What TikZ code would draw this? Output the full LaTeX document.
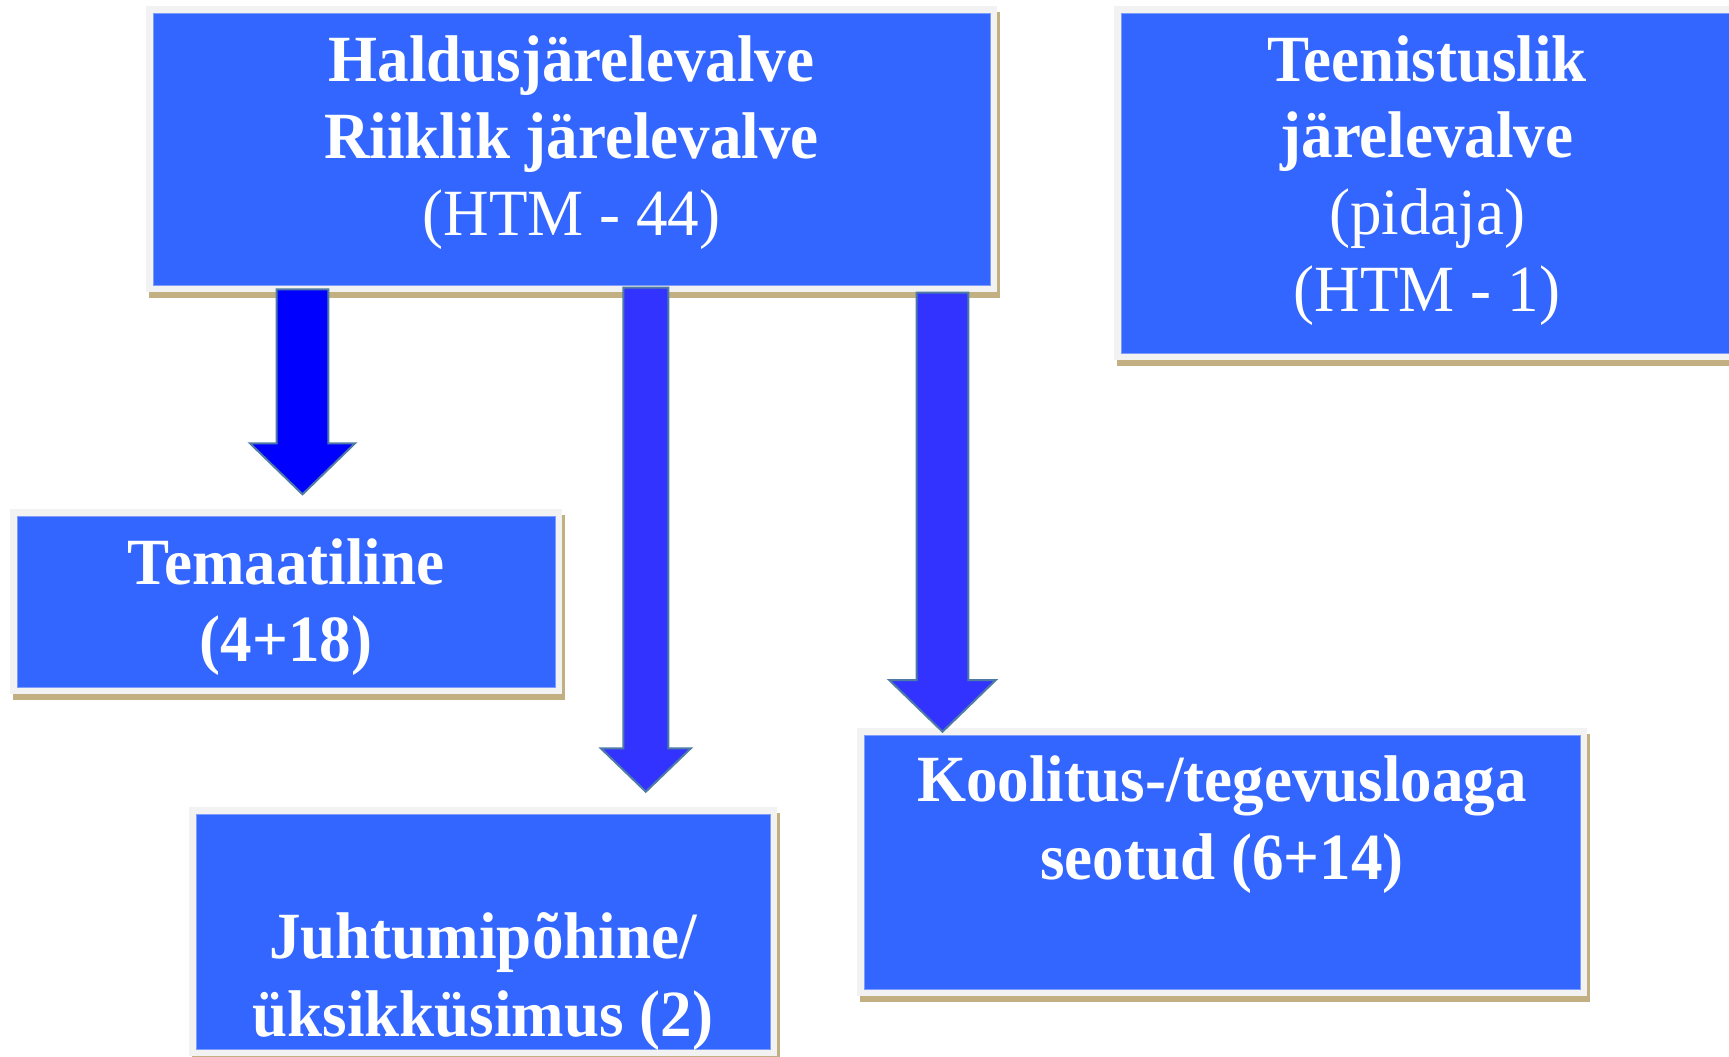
\documentclass[tikz,border=0pt]{standalone}
\usepackage{fontspec}
\setmainfont{Liberation Serif}
\usepackage{graphicx}
\usetikzlibrary{calc}
\definecolor{boxblue}{HTML}{3366FF}
\definecolor{boxedge}{HTML}{7F9CFA}
\definecolor{framec}{HTML}{F2F2F2}
\definecolor{tanc}{HTML}{C2B083}
\definecolor{arrowedge}{HTML}{4D7BA6}
\definecolor{arrowA}{HTML}{0000FF}
\definecolor{arrowB}{HTML}{3333FF}
\newcommand\sx[1]{\scalebox{0.955}[1]{#1}}
\newcommand\panel[5]{%
  \fill[tanc] (#2-7+3,#3-7+6) rectangle (#4+7+3,#5+7+6);
  \fill[framec] (#2-7,#3-7) rectangle (#4+7,#5+7);
  \node[bluebox, anchor=north west, minimum width={(#4-#2)*0.5pt}, minimum height={(#5-#3)*0.5pt}] (#1) at (#2,#3) {};
}
\newcommand\fatarrow[6]{% fill, start, tip, shaft half, head half, head length
  \draw[fat, fill=#1] ($(#2)+(-#4,0)$) -- ($(#3)+(-#4,-#6)$) -- ($(#3)+(-#5,-#6)$) -- (#3)
    -- ($(#3)+(#5,-#6)$) -- ($(#3)+(#4,-#6)$) -- ($(#2)+(#4,0)$) -- cycle;
}
\tikzset{
  bluebox/.style={fill=boxblue, draw=boxedge, line width=0.5pt, inner sep=0pt, outer sep=0pt},
  txt/.style={text=white, inner sep=0pt, outer sep=0pt, anchor=base, font=\fontsize{33}{38}\selectfont},
  txtb/.style={txt, font=\fontsize{33}{38}\selectfont\bfseries},
  fat/.style={draw=arrowedge, line width=1pt, line join=miter},
}
\begin{document}
\begin{tikzpicture}[x=0.5pt,y=-0.5pt]
\clip (0,0) rectangle (1729,1056);
\fill[white] (0,0) rectangle (1729,1056);

% boxes
\panel{hald}{153}{13}{990}{285}
\panel{teen}{1121}{13}{1760}{353}
\panel{tema}{17}{516}{555}{687}
\panel{juht}{196}{814}{770}{1049}
\panel{kool}{864}{735}{1580}{989}

% texts
\node[txtb] (h1) at (571.5,81.7) {\sx{Haldusjärelevalve}};
\node[txtb] (h2) at (571.5,158.7) {\sx{Riiklik järelevalve}};
\node[txt]  (h3) at (571.5,235.5) {\sx{(HTM - 44)}};

\node[txtb] (t1) at (1427,81.7) {\sx{Teenistuslik}};
\node[txtb] (t2) at (1427,157.5) {\sx{järelevalve}};
\node[txt]  (t3) at (1427,234) {\sx{(pidaja)}};
\node[txt]  (t4) at (1427,311.5) {\sx{(HTM - 1)}};

\node[txtb] (m1) at (286,584) {\sx{Temaatiline}};
\node[txtb] (m2) at (286,661) {\sx{(4+18)}};

\node[txtb] (j1) at (483,958) {\sx{Juhtumipõhine/}};
\node[txtb] (j2) at (483,1036) {\sx{üksikküsimus (2)}};

\node[txtb] (k1) at (1222,801.7) {\sx{Koolitus-/tegevusloaga}};
\node[txtb] (k2) at (1222,879) {\sx{seotud (6+14)}};

% arrows
\coordinate (a1s) at (302.5,289.3);
\coordinate (a1t) at (302.5,494.3);
\coordinate (a2s) at (645.8,287.7);
\coordinate (a2t) at (645.8,791.7);
\coordinate (a3s) at (942.5,292.7);
\coordinate (a3t) at (942.5,731.7);
\fatarrow{arrowA}{a1s}{a1t}{25.8}{52.5}{51}
\fatarrow{arrowB}{a2s}{a2t}{22.5}{45}{43.4}
\fatarrow{arrowB}{a3s}{a3t}{25.8}{53.3}{51.7}
\end{tikzpicture}
\end{document}
